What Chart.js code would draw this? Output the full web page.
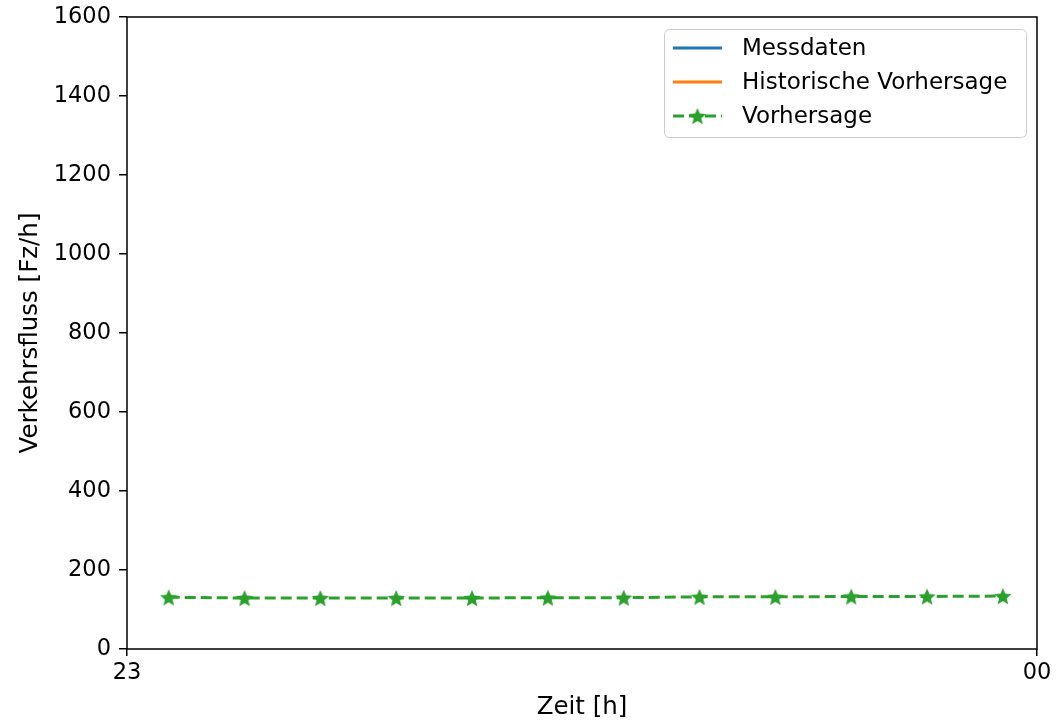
<!DOCTYPE html>
<html>
<head>
<meta charset="utf-8">
<script src="https://cdn.jsdelivr.net/npm/chart.js@4/dist/chart.umd.min.js"></script>
<style>
  html, body { margin: 0; padding: 0; background: #fff; }
  #wrap { width: 1058px; height: 723px; }
</style>
</head>
<body>
<div id="wrap"><canvas id="chart" width="1058" height="723"></canvas></div>
<script>
// --- Daten ---
const minutes = [2.75, 7.75, 12.75, 17.75, 22.75, 27.75, 32.75, 37.75, 42.75, 47.75, 52.75, 57.75];
const messdaten = [];
const historisch = [];
const vorhersage = [131, 129, 129, 129, 129, 130, 130, 132, 132, 133, 133, 134];
const yTicks = [0, 200, 400, 600, 800, 1000, 1200, 1400, 1600];
const xTickLabels = { 0: '23', 60: '00' };

const FONT = 'DejaVu Sans';
const GREEN = '#2ca02c';

// Stern als Marker
function makeStar(r, color) {
    const c = document.createElement('canvas');
    const s = Math.ceil(r * 2 + 2);
    c.width = s; c.height = s;
    const g = c.getContext('2d');
    g.fillStyle = color;
    g.beginPath();
    for (let i = 0; i < 10; i++) {
        const rad = i % 2 === 0 ? r : r * 0.45;
        const a = -Math.PI / 2 + i * Math.PI / 5;
        const px = s / 2 + rad * Math.cos(a);
        const py = s / 2 + rad * Math.sin(a) + r * 0.1;
        i === 0 ? g.moveTo(px, py) : g.lineTo(px, py);
    }
    g.closePath();
    g.fill();
    return c;
}
const star = makeStar(9, GREEN);

// --- Legende im Plotbereich ---
const boxLegend = {
    id: 'boxLegend',
    afterDraw(chart) {
        const ctx = chart.ctx;
        const x = 664, y = 29, w = 362, h = 108, r = 5;
        ctx.save();
        ctx.fillStyle = 'rgba(255,255,255,0.8)';
        ctx.strokeStyle = '#cccccc';
        ctx.lineWidth = 1;
        ctx.beginPath();
        ctx.roundRect(x + 0.5, y + 0.5, w, h, r);
        ctx.fill();
        ctx.stroke();
        const rows = [48, 82, 116];
        chart.data.datasets.forEach((ds, i) => {
            const ry = rows[i];
            ctx.strokeStyle = ds.borderColor;
            ctx.lineWidth = 3;
            ctx.setLineDash(ds.borderDash || []);
            ctx.beginPath();
            ctx.moveTo(673, ry);
            ctx.lineTo(722, ry);
            ctx.stroke();
            ctx.setLineDash([]);
            if (ds.pointStyle && typeof ds.pointStyle !== 'string') {
                ctx.drawImage(ds.pointStyle, 697.5 - ds.pointStyle.width / 2, ry - ds.pointStyle.height / 2);
            }
            ctx.fillStyle = '#000';
            ctx.font = '23px "' + FONT + '"';
            ctx.textBaseline = 'middle';
            ctx.fillText(ds.label, 742, ry + 1);
        });
        ctx.restore();
    }
};

// --- Rahmen ---
const frame = {
    id: 'frame',
    afterDatasetsDraw(chart) {
        const a = chart.chartArea, ctx = chart.ctx;
        ctx.save();
        ctx.strokeStyle = '#000';
        ctx.lineWidth = 1.5;
        ctx.strokeRect(a.left, a.top, a.right - a.left, a.bottom - a.top);
        ctx.restore();
    }
};

new Chart(document.getElementById('chart'), {
    type: 'line',
    data: {
        datasets: [
            { label: 'Messdaten', data: messdaten, borderColor: '#1f77b4', borderWidth: 3, pointRadius: 0 },
            { label: 'Historische Vorhersage', data: historisch, borderColor: '#ff7f0e', borderWidth: 3, pointRadius: 0 },
            {
                label: 'Vorhersage',
                data: minutes.map((m, i) => ({ x: m, y: vorhersage[i] })),
                borderColor: GREEN,
                backgroundColor: GREEN,
                borderWidth: 3,
                borderDash: [11, 5],
                pointStyle: star,
                pointRadius: 9,
                tension: 0
            }
        ]
    },
    options: {
        responsive: false,
        animation: false,
        layout: { padding: { top: 17, right: 21, left: 0, bottom: 0 } },
        plugins: { legend: { display: false }, tooltip: { enabled: false } },
        scales: {
            x: {
                type: 'linear',
                min: 0, max: 60,
                afterBuildTicks: s => { s.ticks = Object.keys(xTickLabels).map(v => ({ value: +v })); },
                afterFit: s => { s.height = 74; s.paddingLeft = 0; s.paddingRight = 0; },
                ticks: {
                    color: '#000',
                    font: { family: FONT, size: 22.5 },
                    padding: 4,
                    maxRotation: 0,
                    callback: v => xTickLabels[v]
                },
                grid: { drawOnChartArea: false, drawTicks: true, tickLength: 7, color: '#000', lineWidth: 1.5 },
                border: { display: false },
                title: { display: true, text: 'Zeit [h]', color: '#000', font: { family: FONT, size: 24.5 }, padding: { top: 4, bottom: 1 } }
            },
            y: {
                type: 'linear',
                min: 0, max: 1600,
                afterBuildTicks: s => { s.ticks = yTicks.map(v => ({ value: v })); },
                afterFit: s => { s.width = 127; s.paddingTop = 0; s.paddingBottom = 0; },
                ticks: { color: '#000', font: { family: FONT, size: 22.5 }, padding: 8, callback: v => String(v) },
                grid: { drawOnChartArea: false, drawTicks: true, tickLength: 8, color: '#000', lineWidth: 1.5 },
                border: { display: false },
                title: { display: true, text: 'Verkehrsfluss [Fz/h]', color: '#000', font: { family: FONT, size: 24.5 }, padding: { top: 16, bottom: 4 } }
            }
        }
    },
    plugins: [frame, boxLegend]
});
</script>
</body>
</html>
